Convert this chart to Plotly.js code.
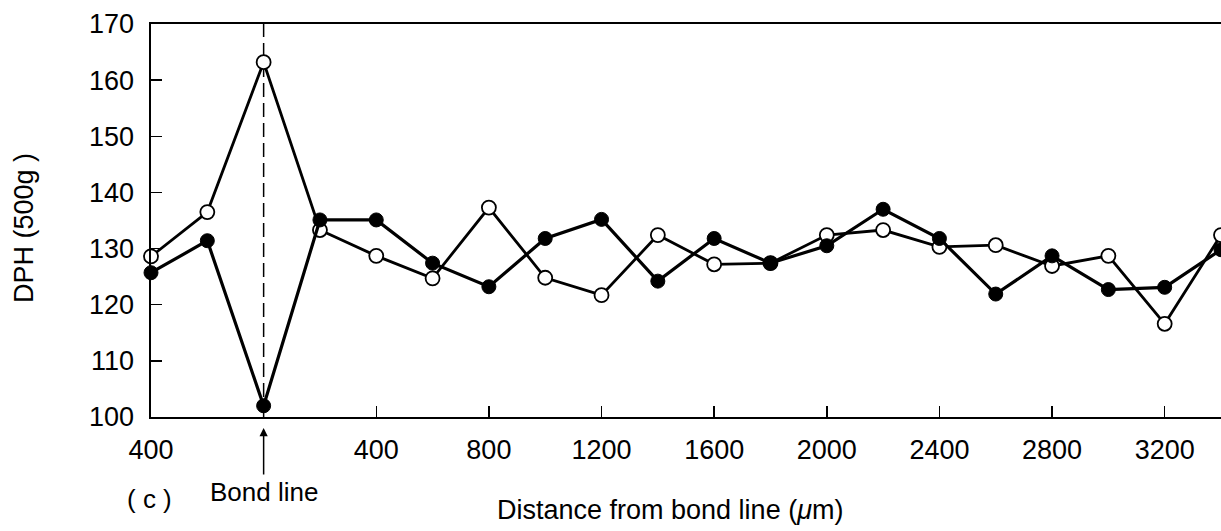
<!DOCTYPE html>
<html>
<head>
<meta charset="utf-8">
<script src="https://cdn.plot.ly/plotly-3.0.1.min.js"></script>
<style>html,body{margin:0;padding:0;background:#fff;}#chart{width:1221px;height:531px;}</style>
</head>
<body>
<div id="chart"></div>
<script>
// Distance from bond line (µm); negative = other side of the bond line
const distance = [-400, -200, 0, 200, 400, 600, 800, 1000, 1200, 1400, 1600, 1800, 2000, 2200, 2400, 2600, 2800, 3000, 3200, 3400];
const filledDPH = [125.7, 131.4, 102.0, 135.1, 135.1, 127.4, 123.2, 131.8, 135.2, 124.2, 131.8, 127.4, 130.5, 137.0, 131.8, 121.9, 128.7, 122.7, 123.1, 129.8];
const hollowDPH = [128.6, 136.5, 163.2, 133.3, 128.7, 124.7, 137.3, 124.8, 121.7, 132.4, 127.2, 127.4, 132.4, 133.3, 130.3, 130.6, 126.9, 128.7, 116.6, 132.4];
const xTickVals = [-400, 400, 800, 1200, 1600, 2000, 2400, 2800, 3200];
const xTickText = ["400", "400", "800", "1200", "1600", "2000", "2400", "2800", "3200"];
const yTickVals = [100, 110, 120, 130, 140, 150, 160, 170];

const FONT = "Liberation Sans, Arial, Helvetica, sans-serif";

const traces = [
  {
    x: distance, y: hollowDPH, type: 'scatter', mode: 'lines+markers', name: 'open',
    line: {color: '#000', width: 2.8},
    marker: {symbol: 'circle', size: 14, color: '#fff', line: {color: '#000', width: 1.8}},
    cliponaxis: false, showlegend: false
  },
  {
    x: distance, y: filledDPH, type: 'scatter', mode: 'lines+markers', name: 'filled',
    line: {color: '#000', width: 3.2},
    marker: {symbol: 'circle', size: 14, color: '#000', line: {color: '#000', width: 1}},
    cliponaxis: false, showlegend: false
  }
];

const layout = {
  width: 1221, height: 531,
  margin: {l: 151, r: 0, t: 24, b: 114, pad: 0},
  paper_bgcolor: '#fff', plot_bgcolor: '#fff',
  font: {family: FONT, size: 27, color: '#000'},
  showlegend: false,
  xaxis: {
    range: [-400, 3400], showgrid: false, zeroline: false,
    showline: true, linecolor: '#000', linewidth: 2, mirror: true,
    ticks: 'inside', ticklen: 11, tickwidth: 1.5, tickcolor: '#000',
    tickvals: xTickVals, ticktext: xTickText, ticklabelstandoff: 8,
    tickfont: {family: FONT, size: 27, color: '#000'}
  },
  yaxis: {
    range: [100, 170], showgrid: false, zeroline: false,
    showline: true, linecolor: '#000', linewidth: 2.5,
    ticks: 'inside', ticklen: 11, tickwidth: 1.5, tickcolor: '#000',
    tickvals: yTickVals, ticklabelstandoff: 9,
    tickfont: {family: FONT, size: 27, color: '#000'}
  },
  shapes: [
    {type: 'line', xref: 'x', yref: 'y', x0: 0, x1: 0, y0: 100, y1: 170,
     line: {color: '#000', width: 1.5, dash: '14px,6px'}, layer: 'below'}
  ],
  annotations: [
    {xref: 'x', yref: 'paper', x: 0, y: -0.191, text: 'Bond line', showarrow: false,
     font: {family: FONT, size: 26}, xanchor: 'center', yanchor: 'middle'},
    {xref: 'x', yref: 'paper', x: 0, y: -0.028, ax: 0, ay: 48, axref: 'pixel', ayref: 'pixel',
     text: '', showarrow: true, arrowhead: 2, arrowsize: 1.1, arrowwidth: 1.5, arrowcolor: '#000'},
    {xref: 'paper', yref: 'paper', x: -0.001, y: -0.209, text: '( c )', showarrow: false,
     font: {family: FONT, size: 26}, xanchor: 'center', yanchor: 'middle'},
    {xref: 'paper', yref: 'paper', x: 0.485, y: -0.237, text: 'Distance from bond line (<i>μ</i>m)', showarrow: false,
     font: {family: FONT, size: 27}, xanchor: 'center', yanchor: 'middle'},
    {xref: 'paper', yref: 'paper', x: -0.118, y: 0.48, text: 'DPH (500g )', showarrow: false, textangle: -90,
     font: {family: FONT, size: 27}, xanchor: 'center', yanchor: 'middle'}
  ]
};

Plotly.newPlot('chart', traces, layout, {staticPlot: true, displayModeBar: false});
</script>
</body>
</html>
